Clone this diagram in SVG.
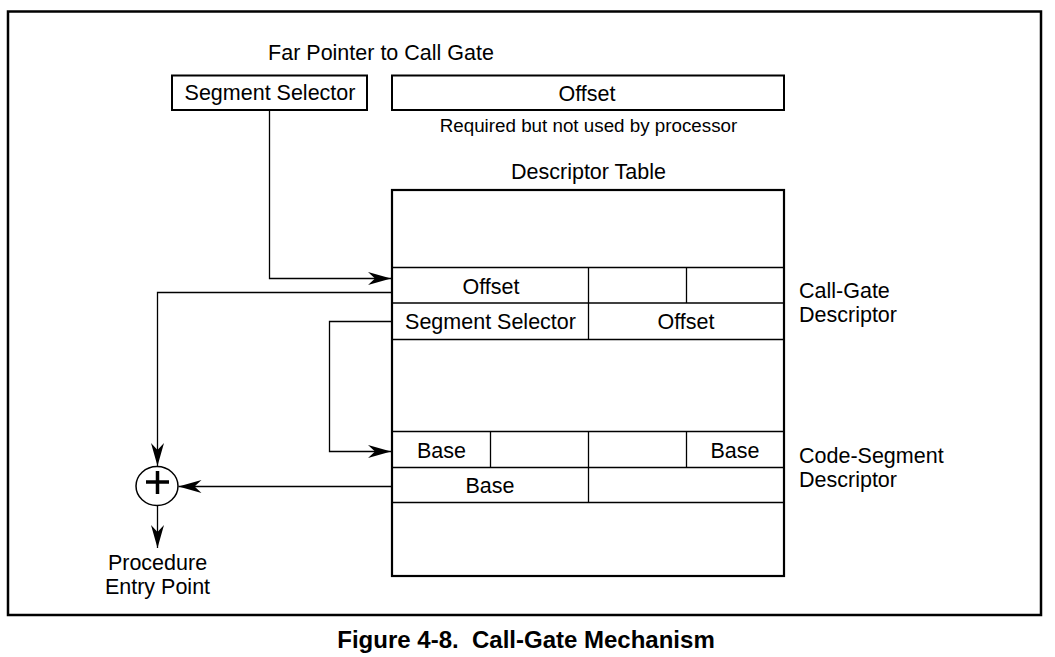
<svg xmlns="http://www.w3.org/2000/svg" width="1055" height="657" viewBox="0 0 1055 657">
<style>
text{font-family:"Liberation Sans",Arial,sans-serif;fill:#000}
.t{font-size:21.5px}
.c{text-anchor:middle}
.s{font-size:18.8px}
.b{fill:none;stroke:#000;stroke-width:2}
.g{fill:none;stroke:#000;stroke-width:1.3}
.w{fill:none;stroke:#000;stroke-width:1.3}
</style>
<defs>
<marker id="ah" markerUnits="userSpaceOnUse" markerWidth="26" markerHeight="14" viewBox="-24 -7 26 14" refX="0" refY="0" orient="auto">
<path d="M0,0 L-23,-6.5 L-16,0 L-23,6.5 Z" fill="#000"/>
</marker>
</defs>
<rect x="0" y="0" width="1055" height="657" fill="#fff"/>
<rect x="8" y="11.5" width="1033" height="603.5" fill="none" stroke="#000" stroke-width="2.5"/>
<g id="far-pointer">
<text class="t c" x="381" y="60">Far Pointer to Call Gate</text>
<g id="seg-selector">
<rect class="b" x="172" y="75.5" width="195" height="34.5"/>
<text class="t c" x="270" y="100">Segment Selector</text>
</g>
<g id="offset">
<rect class="b" x="392" y="75.5" width="392" height="34.5"/>
<text class="t c" x="587" y="100.5">Offset</text>
</g>
<text class="s c" x="588.5" y="132">Required but not used by processor</text>
</g>
<g id="descriptor-table">
<text class="t c" x="588.5" y="179">Descriptor Table</text>
<rect x="392" y="190" width="392" height="386" fill="none" stroke="#000" stroke-width="2.2"/>
<g class="g">
<line x1="392" y1="267.5" x2="784" y2="267.5"/>
<line x1="392" y1="303" x2="784" y2="303"/>
<line x1="392" y1="339.5" x2="784" y2="339.5"/>
<line x1="392" y1="431.5" x2="784" y2="431.5"/>
<line x1="392" y1="467.5" x2="784" y2="467.5"/>
<line x1="392" y1="502.5" x2="784" y2="502.5"/>
<line x1="588.5" y1="267.5" x2="588.5" y2="339.5"/>
<line x1="686.5" y1="267.5" x2="686.5" y2="303"/>
<line x1="490.5" y1="431.5" x2="490.5" y2="467.5"/>
<line x1="588.5" y1="431.5" x2="588.5" y2="502.5"/>
<line x1="686.5" y1="431.5" x2="686.5" y2="467.5"/>
</g>
<g id="call-gate-descriptor">
<text class="t c" x="491" y="294">Offset</text>
<text class="t c" x="490.5" y="329">Segment Selector</text>
<text class="t c" x="686" y="329">Offset</text>
<text class="t" x="799" y="298">Call-Gate</text>
<text class="t" x="799" y="322">Descriptor</text>
</g>
<g id="code-segment-descriptor">
<text class="t c" x="441.5" y="458">Base</text>
<text class="t c" x="735" y="458">Base</text>
<text class="t c" x="490" y="493">Base</text>
<text class="t" x="799" y="463">Code-Segment</text>
<text class="t" x="799" y="487">Descriptor</text>
</g>
</g>
<g id="adder">
<ellipse cx="157" cy="486" rx="21" ry="19.5" fill="#fff" stroke="#000" stroke-width="1.5"/>
<path d="M146,482 H169 M157.5,471 V494" stroke="#000" stroke-width="3.5" fill="none"/>
</g>
<g id="entry-point">
<text class="t c" x="157.5" y="570">Procedure</text>
<text class="t c" x="157.5" y="594">Entry Point</text>
</g>
<g id="connectors" class="w">
<polyline points="269.5,110 269.5,278.5 391,278.5" marker-end="url(#ah)"/>
<polyline points="392,292.5 157.5,292.5 157.5,466" marker-end="url(#ah)"/>
<polyline points="392,321.5 329.5,321.5 329.5,451.5 391,451.5" marker-end="url(#ah)"/>
<line x1="392" y1="486.5" x2="178.5" y2="486.5" marker-end="url(#ah)"/>
<line x1="157.5" y1="505.5" x2="157.5" y2="548" marker-end="url(#ah)"/>
</g>
<text x="526" y="648" style="font-size:24px;font-weight:bold" text-anchor="middle" xml:space="preserve">Figure 4-8.  Call-Gate Mechanism</text>
</svg>
